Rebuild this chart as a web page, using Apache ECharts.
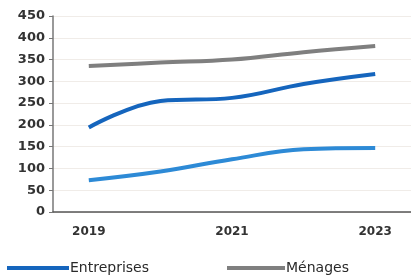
<!DOCTYPE html>
<html>
<head>
<meta charset="utf-8">
<script src="https://cdn.jsdelivr.net/npm/echarts@6/dist/echarts.min.js"></script>
<style>
  html, body { margin: 0; padding: 0; background: #fff; }
  #chart { width: 411px; height: 276px; }
</style>
</head>
<body>
<div id="chart"></div>
<script>
  const years = ['2019', '2020', '2021', '2022', '2023'];
  const entreprises = [194, 255, 262, 294, 317];
  const menages = [335, 343, 350, 367, 381];
  const autres = [73, 93, 121, 144, 147];

  const font = 'DejaVu Sans';
  const legendText = { fontFamily: font, fontSize: 14, color: '#2a2a2a', padding: [0, 0, 0, -4] };

  const chart = echarts.init(document.getElementById('chart'));
  chart.setOption({
    animation: false,
    grid: { left: 53, width: 364, top: 16, bottom: 64 },
    legend: [
      {
        data: ['Entreprises'],
        left: 2,
        top: 256,
        itemWidth: 62,
        itemHeight: 4,
        icon: 'rect',
        textStyle: legendText
      },
      {
        data: ['Ménages'],
        left: 222,
        top: 256,
        itemWidth: 58,
        itemHeight: 4,
        icon: 'rect',
        textStyle: legendText
      }
    ],
    xAxis: {
      type: 'category',
      data: years,
      boundaryGap: true,
      axisLine: { lineStyle: { color: '#555', width: 1.5 } },
      axisTick: { interval: 1, length: 4, lineStyle: { color: '#555' } },
      axisLabel: { interval: 1, margin: 14, fontFamily: font, fontSize: 12, fontWeight: 'bold', color: '#333' }
    },
    yAxis: {
      type: 'value',
      min: 0,
      max: 450,
      interval: 50,
      axisLine: { show: true, lineStyle: { color: '#777', width: 1.5 } },
      axisTick: { show: true, length: 4, lineStyle: { color: '#777' } },
      axisLabel: { margin: 8, fontFamily: font, fontSize: 13, fontWeight: 'bold', color: '#333' },
      splitLine: { lineStyle: { color: '#f0ece8' } }
    },
    series: [
      {
        name: 'Ménages',
        type: 'line',
        data: menages,
        smooth: 0.4,
        symbol: 'none',
        lineStyle: { width: 4, color: '#7f7f7f' },
        itemStyle: { color: '#7f7f7f' }
      },
      {
        name: 'Entreprises',
        type: 'line',
        data: entreprises,
        smooth: 0.4,
        symbol: 'none',
        lineStyle: { width: 4, color: '#1565bd' },
        itemStyle: { color: '#1565bd' }
      },
      {
        name: 'Autres',
        type: 'line',
        data: autres,
        smooth: 0.4,
        symbol: 'none',
        lineStyle: { width: 4, color: '#2d8ad6' },
        itemStyle: { color: '#2d8ad6' }
      }
    ]
  });
</script>
</body>
</html>
